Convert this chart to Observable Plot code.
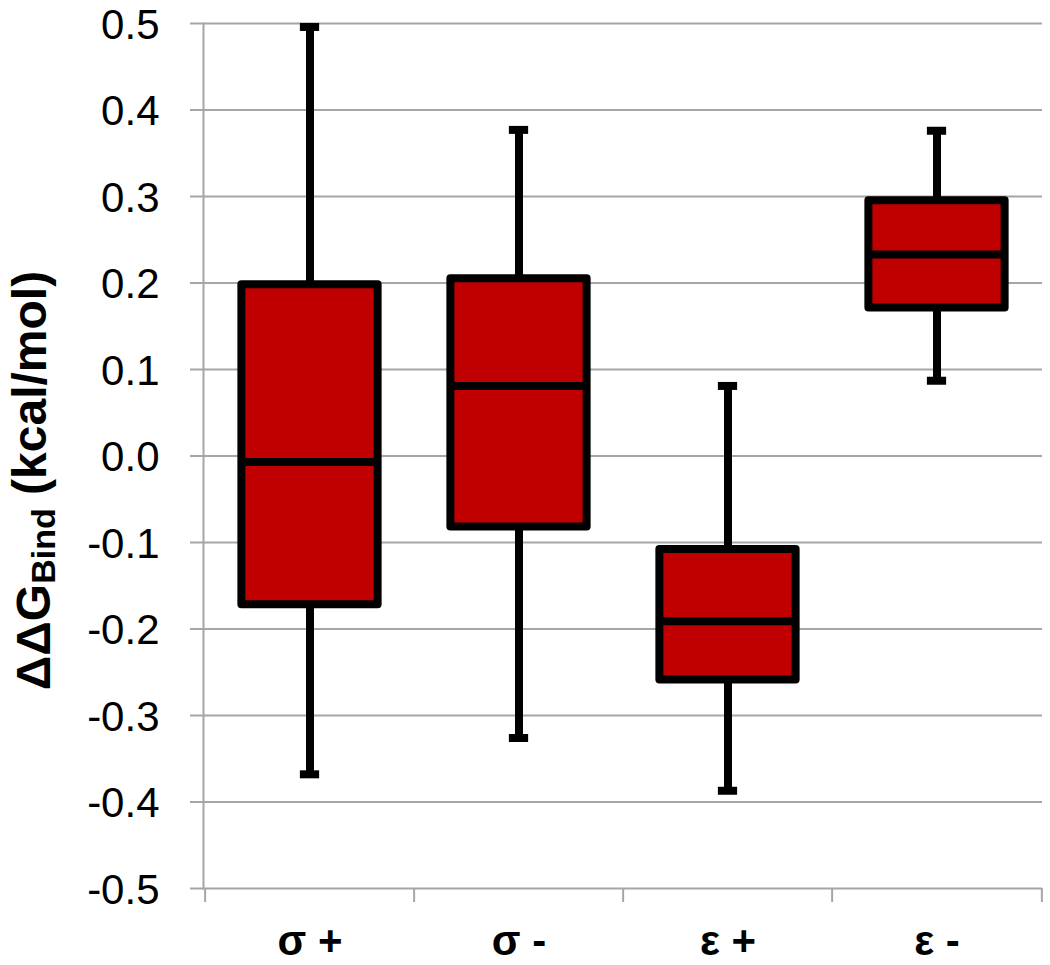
<!DOCTYPE html>
<html>
<head>
<meta charset="utf-8">
<script src="https://cdn.jsdelivr.net/npm/d3@7"></script>
<script src="https://cdn.jsdelivr.net/npm/@observablehq/plot@0.6"></script>
<style>
  html, body { margin: 0; padding: 0; background: white; }
  #chart svg { display: block; }
</style>
</head>
<body>
<div id="chart"></div>
<script>
// Data
const categories = ["σ +", "σ -", "ε +", "ε -"];
const whiskerLow  = [-0.368, -0.326, -0.387, 0.087];
const q1          = [-0.172, -0.082, -0.259, 0.171];
const median      = [-0.007,  0.081, -0.191, 0.233];
const q3          = [ 0.198,  0.205, -0.108, 0.295];
const whiskerHigh = [ 0.496,  0.377,  0.081, 0.376];
const yTicks = [-0.5, -0.4, -0.3, -0.2, -0.1, 0.0, 0.1, 0.2, 0.3, 0.4, 0.5];

const data = categories.map((c, i) => ({
  cat: c, lo: whiskerLow[i], q1: q1[i], med: median[i], q3: q3[i], hi: whiskerHigh[i]
}));

const W = 1050, H = 965;
const mL = 203, mR = 8, mT = 23, mB = 77;
const bw = (W - mL - mR) / categories.length;
const grid = "#a6a6a6";
const boxColor = "#c00000";
const capInset = (bw - 20) / 2;
const boxInset = (bw - 137) / 2;

const plot = Plot.plot({
  width: W, height: H,
  marginLeft: mL, marginRight: mR, marginTop: mT, marginBottom: mB,
  style: { fontFamily: "'Liberation Sans', Arial, sans-serif", background: "white", color: "black" },
  x: { domain: categories, padding: 0, label: null },
  y: { domain: [-0.5, 0.5], label: null },
  marks: [
    Plot.ruleY(yTicks, { stroke: grid, strokeWidth: 2 }),
    Plot.frame({ anchor: "left", stroke: grid, strokeWidth: 2 }),
    // y tick marks
    Plot.axisY({ ticks: yTicks, tickSize: 13, stroke: grid, strokeWidth: 2, fill: "none", label: null }),
    // y tick labels
    Plot.axisY({ ticks: yTicks, tickFormat: d => d.toFixed(1), tickSize: 0, tickPadding: 44, dy: 2,
                 fontSize: 42, fill: "black", label: null }),
    // category boundary ticks below the x axis
    Plot.ruleX(categories, { x: d => d, dx: -bw / 2, y1: -0.5, y2: -0.5, insetBottom: -14, stroke: grid, strokeWidth: 2 }),
    Plot.ruleX(categories.slice(-1), { x: d => d, dx: bw / 2, y1: -0.5, y2: -0.5, insetBottom: -14, stroke: grid, strokeWidth: 2 }),
    Plot.axisX({ tickSize: 0, tickPadding: 37, fontSize: 42, fontWeight: "bold", fill: "black", label: null }),
    // whiskers
    Plot.ruleX(data, { x: "cat", y1: "lo", y2: "hi", stroke: "black", strokeWidth: 8 }),
    Plot.tickY(data, { x: "cat", y: "hi", stroke: "black", strokeWidth: 8, insetLeft: capInset, insetRight: capInset }),
    Plot.tickY(data, { x: "cat", y: "lo", stroke: "black", strokeWidth: 8, insetLeft: capInset, insetRight: capInset }),
    // boxes
    Plot.barY(data, { x: "cat", y1: "q1", y2: "q3", fill: boxColor, stroke: "black", strokeWidth: 8,
                      strokeLinejoin: "round", insetLeft: boxInset, insetRight: boxInset }),
    Plot.tickY(data, { x: "cat", y: "med", stroke: "black", strokeWidth: 8, insetLeft: boxInset, insetRight: boxInset })
  ]
});

// y-axis title with subscript
const svg = d3.select(plot);
const t = svg.append("text")
  .attr("transform", `translate(33, ${mT + (H - mT - mB) / 2 + 25}) rotate(-90)`)
  .attr("text-anchor", "middle")
  .attr("dominant-baseline", "central")
  .attr("font-family", "'Liberation Sans', Arial, sans-serif")
  .attr("font-weight", "bold")
  .attr("font-size", 48)
  .attr("fill", "black");
t.append("tspan").text("ΔΔG");
t.append("tspan").attr("font-size", 34).attr("dy", "0.3em").text("Bind");
t.append("tspan").attr("dy", "-0.3em").text(" (kcal/mol)");

document.getElementById("chart").appendChild(plot);
</script>
</body>
</html>
